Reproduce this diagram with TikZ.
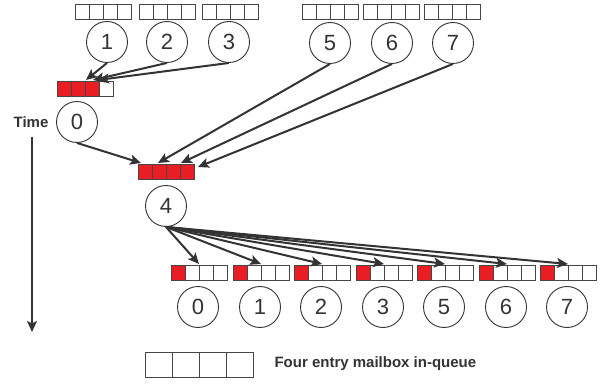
\documentclass[tikz,border=0pt]{standalone}
\usepackage{fontspec}
\setmainfont{Liberation Sans}
\usetikzlibrary{arrows.meta,calc}
\definecolor{boxred}{RGB}{232,30,36}
\definecolor{ink}{RGB}{51,51,51}
\definecolor{cellgray}{RGB}{70,70,70}
\tikzset{
  proc/.style={circle,draw=ink,line width=0.9pt,minimum size=41pt,inner sep=0pt,
    font=\fontsize{22}{24}\selectfont,text=ink},
  msg/.style={draw=ink,line width=2pt,-{Stealth[length=11pt,width=10pt,inset=2.5pt]}},
  caption/.style={font=\bfseries\fontsize{15}{17}\selectfont,text=ink},
}
% mailbox: name, left x, top y, cell width, cell height, number of filled cells
\newcommand\mailbox[6]{%
  \ifnum#6>0 \fill[boxred] (#2,#3) rectangle ++(#6*#4,#5);\fi
  \node[draw=cellgray,line width=1pt,anchor=north west,inner sep=0pt,
        minimum width={4*#4 pt},minimum height={#5 pt}] (#1) at (#2,#3) {};
  \foreach \k in {1,2,3} \draw[cellgray,line width=1pt] (#2+\k*#4,#3) -- ++(0,#5);
}
\begin{document}
\begin{tikzpicture}[x=1pt,y=-1pt]
\useasboundingbox (0,0) rectangle (600,385);

% senders on the top row
\mailbox{t1}{75}{4}{14}{15}{0}
\mailbox{t2}{139}{4}{14}{15}{0}
\mailbox{t3}{202}{4}{14}{15}{0}
\mailbox{t5}{302}{4}{14}{15}{0}
\mailbox{t6}{363}{4}{14}{15}{0}
\mailbox{t7}{424}{4}{14}{15}{0}
\node[proc] (p1) at (107,42) {1};
\node[proc] (p2) at (167,42) {2};
\node[proc] (p3) at (229,42) {3};
\node[proc] (p5) at (330,43) {5};
\node[proc] (p6) at (392,43) {6};
\node[proc] (p7) at (453,43) {7};

% node 0 receives three messages
\mailbox{b0}{57}{81}{14}{15}{3}
\node[proc] (p0) at (77,122) {0};
\draw[msg] (p1.south) -- ($(b0.north west)+(29,-1)$);
\draw[msg] (p2.south) -- ($(b0.north west)+(36,-1)$);
\draw[msg] (p3.south) -- ($(b0.north west)+(41,-1)$);

% node 4 receives four messages
\mailbox{b4}{138}{164}{14}{15}{4}
\node[proc] (p4) at (166,206) {4};
\draw[msg] (p0.south) -- ($(b4.north west)+(3,-1)$);
\draw[msg] (p5.south) -- ($(b4.north west)+(20,-1)$);
\draw[msg] (p6.south) -- ($(b4.north west)+(43,-1)$);
\draw[msg] (p7.south) -- ($(b4.north east)+(3,3)$);

% node 4 broadcasts to everyone
\foreach \x/\n [count=\i] in {171/0,233/1,294/2,356/3,417/5,479/6,540/7} {
  \mailbox{r\n}{\x}{265}{14}{15}{1}
  \node[proc] (q\n) at (\x+27,307) {\n};
  \draw[msg] (p4.south) -- ($(r\n.north west)+(28,-1)$);
}

% time axis
\node[caption] (time) at (31,122) {Time};
\coordinate (tstart) at (32,137);
\coordinate (tend) at (32,332);
\draw[msg] (tstart) -- (tend);

% legend
\mailbox{leg}{145}{352}{27}{25}{0}
\node[caption,anchor=west] (legtext) at (271,364) {Four entry mailbox in-queue};
\end{tikzpicture}
\end{document}
